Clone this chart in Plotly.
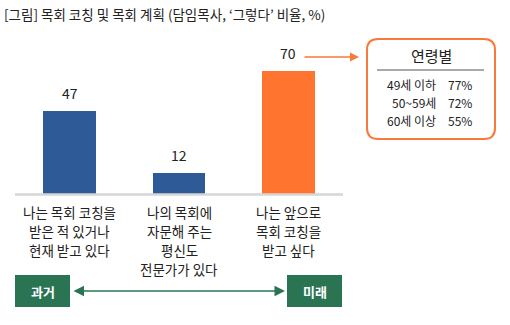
import plotly.graph_objects as go

W, H = 510, 325

# Data
categories = ["나는 목회 코칭을<br>받은 적 있거나<br>현재 받고 있다",
              "나의 목회에<br>자문해 주는<br>평신도<br>전문가가 있다",
              "나는 앞으로<br>목회 코칭을<br>받고 싶다"]
values = [47, 12, 70]
bar_colors = ["#2e5b98", "#2e5b98", "#ff742f"]

age_groups = ["49세 이하", "50~59세", "60세 이상"]
age_values = [77, 72, 55]

title = "[그림] 목회 코칭 및 목회 계획 (담임목사, ‘그렇다’ 비율, %)"
FONT = "Noto Sans CJK KR"
GREEN = "#2a7454"
ORANGE = "#f77a3a"
TEXT = "#222222"


def px(x):
    return x / W


def py(y):
    return 1 - y / H


def label(x, y, text, size, color=TEXT, xanchor="center"):
    return dict(x=px(x), y=py(y), xref="paper", yref="paper", text=text,
                showarrow=False, xanchor=xanchor, yanchor="middle",
                borderpad=0,
                font=dict(family=FONT, size=size, color=color))


xs = list(range(len(categories)))

fig = go.Figure()
fig.add_trace(go.Bar(
    x=xs, y=values, width=0.48,
    marker=dict(color=bar_colors, line=dict(width=0)),
    hoverinfo="skip",
))

annotations = []
# value labels above bars
for x, v in zip(xs, values):
    annotations.append(dict(
        x=x, y=v, xref="x", yref="y", text=str(v), showarrow=False,
        xanchor="center", yanchor="bottom", yshift=6,
        font=dict(family=FONT, size=14, color=TEXT),
    ))
# category labels below the baseline, one annotation per line
for x, c in zip(xs, categories):
    for i, line in enumerate(c.split("<br>")):
        annotations.append(dict(
            x=x, y=py(212 + 19 * i), xref="x", yref="paper", text=line,
            showarrow=False, xanchor="center", yanchor="middle", borderpad=0,
            font=dict(family=FONT, size=13.5, color=TEXT),
        ))

# title
annotations.append(label(3, 14, title, 13.5, xanchor="left"))

# timeline boxes
annotations.append(label(42.5, 291, "<b>과거</b>", 13, "white"))
annotations.append(label(314.5, 291, "<b>미래</b>", 13, "white"))
# double-headed timeline arrow
annotations.append(dict(
    x=px(285), y=py(291), xref="paper", yref="paper",
    ax=-(285 - 72), ay=0, text="", showarrow=True,
    arrowside="end+start", arrowhead=2, arrowsize=1.4, arrowwidth=1.5,
    arrowcolor=GREEN, standoff=0, startstandoff=0,
))
# orange pointer to the age panel
annotations.append(dict(
    x=px(359), y=py(57), xref="paper", yref="paper",
    ax=-(359 - 303), ay=0, text="", showarrow=True,
    arrowhead=2, arrowsize=1.2, arrowwidth=1.5, arrowcolor=ORANGE,
    standoff=0,
))

# age panel
annotations.append(label(431, 56, "연령별", 15))
row_y = [84, 102, 120]
for g, v, yy in zip(age_groups, age_values, row_y):
    annotations.append(label(437, yy, g, 12, xanchor="right"))
    annotations.append(label(447, yy, f"{v}%", 12, xanchor="left"))

# rounded rectangle path for the age panel
x0, x1, y0, y1, r = 367, 495, 39, 139, 11
path = (
    f"M {px(x0 + r)} {py(y0)} L {px(x1 - r)} {py(y0)} "
    f"Q {px(x1)} {py(y0)} {px(x1)} {py(y0 + r)} "
    f"L {px(x1)} {py(y1 - r)} "
    f"Q {px(x1)} {py(y1)} {px(x1 - r)} {py(y1)} "
    f"L {px(x0 + r)} {py(y1)} "
    f"Q {px(x0)} {py(y1)} {px(x0)} {py(y1 - r)} "
    f"L {px(x0)} {py(y0 + r)} "
    f"Q {px(x0)} {py(y0)} {px(x0 + r)} {py(y0)} Z"
)

shapes = [
    # baseline
    dict(type="line", xref="paper", yref="paper", x0=px(15), x1=px(343),
         y0=py(194.5), y1=py(194.5), line=dict(color="#d6d6d6", width=2.5)),
    # timeline boxes
    dict(type="rect", xref="paper", yref="paper", x0=px(15), x1=px(70),
         y0=py(307), y1=py(275), fillcolor=GREEN, line=dict(width=0)),
    dict(type="rect", xref="paper", yref="paper", x0=px(287), x1=px(342),
         y0=py(307), y1=py(275), fillcolor=GREEN, line=dict(width=0)),
    # panel
    dict(type="path", xref="paper", yref="paper", path=path,
         line=dict(color=ORANGE, width=2), fillcolor="white"),
    dict(type="line", xref="paper", yref="paper", x0=px(377), x1=px(484),
         y0=py(70), y1=py(70), line=dict(color="#555555", width=1)),
]

fig.update_layout(
    width=W, height=H,
    margin=dict(l=0, r=0, t=0, b=0),
    paper_bgcolor="white", plot_bgcolor="white",
    showlegend=False,
    xaxis=dict(domain=[px(15), px(343)], range=[-0.5, 2.5], visible=False,
               fixedrange=True),
    yaxis=dict(domain=[py(194), py(53)], range=[0, 80], visible=False,
               fixedrange=True),
    annotations=annotations,
    shapes=shapes,
    bargap=0,
)

fig.write_html("out.html", config={"displayModeBar": False})
